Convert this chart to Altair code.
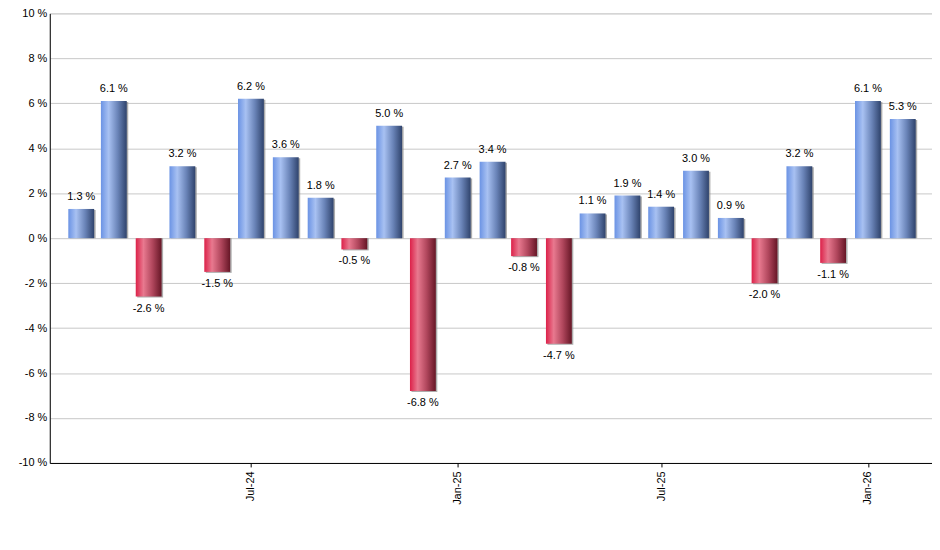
import altair as alt
import pandas as pd

months = [
    "2024-02-01", "2024-03-01", "2024-04-01", "2024-05-01", "2024-06-01",
    "2024-07-01", "2024-08-01", "2024-09-01", "2024-10-01", "2024-11-01",
    "2024-12-01", "2025-01-01", "2025-02-01", "2025-03-01", "2025-04-01",
    "2025-05-01", "2025-06-01", "2025-07-01", "2025-08-01", "2025-09-01",
    "2025-10-01", "2025-11-01", "2025-12-01", "2026-01-01", "2026-02-01",
]
returns = [
    1.3, 6.1, -2.6, 3.2, -1.5,
    6.2, 3.6, 1.8, -0.5, 5.0,
    -6.8, 2.7, 3.4, -0.8, -4.7,
    1.1, 1.9, 1.4, 3.0, 0.9,
    -2.0, 3.2, -1.1, 6.1, 5.3,
]
y_ticks = [-10, -8, -6, -4, -2, 0, 2, 4, 6, 8, 10]
x_tick_dates = [(2024, 7), (2025, 1), (2025, 7), (2026, 1)]

df = pd.DataFrame({"month": months, "ret": returns})

blue_grad = alt.Gradient(
    gradient="linear", x1=0, y1=0, x2=1, y2=0,
    stops=[
        alt.GradientStop(offset=0, color="#6b93e4"),
        alt.GradientStop(offset=0.3, color="#a8c1f2"),
        alt.GradientStop(offset=0.65, color="#6a84b8"),
        alt.GradientStop(offset=1, color="#2f436c"),
    ],
)
red_grad = alt.Gradient(
    gradient="linear", x1=0, y1=0, x2=1, y2=0,
    stops=[
        alt.GradientStop(offset=0, color="#dc2149"),
        alt.GradientStop(offset=0.3, color="#e8798f"),
        alt.GradientStop(offset=0.65, color="#b0465c"),
        alt.GradientStop(offset=1, color="#661626"),
    ],
)

x_enc = alt.X(
    "month:T",
    scale=alt.Scale(
        type="utc",
        nice=False,
        padding=0,
        domain=[
            alt.DateTime(year=2024, month=1, date=4, utc=True),
            alt.DateTime(year=2026, month=2, date=27, utc=True),
        ],
    ),
    axis=alt.Axis(
        title=None,
        values=[alt.DateTime(year=y, month=m, date=1, utc=True) for y, m in x_tick_dates],
        labelExpr="utcFormat(datum.value, '%b-%y')",
        labelAngle=-90,
        grid=False,
        domainColor="#000000",
        tickColor="#000000",
        tickSize=4,
        labelPadding=4,
        labelFontSize=11,
        labelColor="#000000",
        labelFont="Liberation Sans",
    ),
)
y_enc = alt.Y(
    "ret:Q",
    scale=alt.Scale(domain=[-10, 10], nice=False),
    axis=alt.Axis(
        title=None,
        values=y_ticks,
        labelExpr="datum.value + ' %'",
        grid=True,
        gridColor="#c8c8c8",
        gridWidth=1,
        domainColor="#000000",
        ticks=False,
        labelPadding=3,
        labelFontSize=11,
        labelColor="#000000",
        labelFont="Liberation Sans",
    ),
)

base = alt.Chart(df).encode(x=x_enc, y=y_enc, y2=alt.datum(0))

shadow = base.mark_bar(size=26, color="#8a8a8a", opacity=0.7, xOffset=1.5, yOffset=1)
pos_bars = base.transform_filter("datum.ret >= 0").mark_bar(size=26, color=blue_grad)
neg_bars = base.transform_filter("datum.ret < 0").mark_bar(size=26, color=red_grad)

text_base = alt.Chart(df).transform_calculate(
    label="replace(format(datum.ret, '.1f'), '\u2212', '-') + ' %'"
).encode(x=alt.X("month:T"), y=alt.Y("ret:Q"), text="label:N")

pos_text = text_base.transform_filter("datum.ret >= 0").mark_text(
    baseline="middle", dy=-12, fontSize=11, font="Liberation Sans", color="#000000"
)
neg_text = text_base.transform_filter("datum.ret < 0").mark_text(
    baseline="middle", dy=12, fontSize=11, font="Liberation Sans", color="#000000"
)

chart = alt.layer(shadow, pos_bars, neg_bars, pos_text, neg_text).properties(
    width=887,
    height=452,
    autosize=alt.AutoSizeParams(type="none"),
    padding={"left": 42, "top": 4, "right": 0, "bottom": 70},
).configure_view(strokeWidth=0).configure(background="#ffffff")

chart.save("out.html", embed_options={"renderer": "svg", "actions": False})
